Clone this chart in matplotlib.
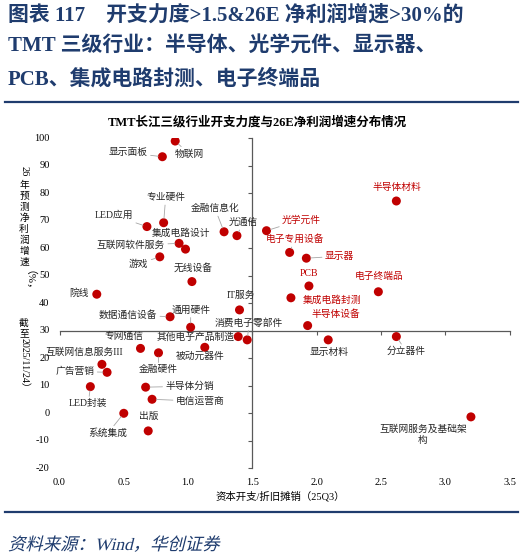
import matplotlib
matplotlib.use('Agg')
import matplotlib.pyplot as plt
from matplotlib.lines import Line2D
from matplotlib.textpath import TextPath
from matplotlib.patches import PathPatch
from matplotlib.font_manager import FontProperties
from matplotlib.transforms import Affine2D

plt.rcParams['font.family'] = ['Liberation Serif', 'Noto Sans CJK SC']

## industries, capex / D&A (25Q3) and 26E profit growth (%)
names = ['物联网', '显示面板', '专业硬件', 'LED应用', '集成电路设计', '互联网软件服务',
         '游戏', '无线设备', '金融信息化', '光通信', '院线', 'IT服务',
         '光学元件', '电子专用设备', '显示器', '半导体材料', 'PCB', '电子终端品',
         '集成电路封测', '半导体设备', '数据通信设备', '通用硬件', '消费电子零部件',
         '其他电子产品制造', '专网通信', '被动元器件', '金融硬件', '互联网信息服务III',
         '广告营销', 'LED封装', '半导体分销', '电信运营商', '系统集成', '出版',
         '显示材料', '分立器件', '互联网服务及基础架\n构']
capex_ratio = [0.90, 0.80, 0.81, 0.68, 0.98, 0.93,
               0.78, 1.03, 1.28, 1.38, 0.29, 1.40,
               1.61, 1.79, 1.92, 2.62, 1.94, 2.48,
               1.80, 1.93, 0.86, 1.02, 1.46,
               1.39, 0.63, 1.13, 0.77, 0.33,
               0.37, 0.24, 0.67, 0.72, 0.50, 0.69,
               2.09, 2.62, 3.20]
profit_growth = [99.0, 93.3, 69.3, 67.9, 59.7, 61.8,
                 56.9, 47.9, 66.0, 64.6, 43.3, 37.6,
                 66.4, 58.5, 56.4, 77.2, 46.3, 44.2,
                 42.0, 31.9, 35.1, 31.3, 26.7,
                 27.9, 23.6, 24.0, 22.0, 17.8,
                 14.9, 9.7, 9.5, 5.1, 0.0, -6.4,
                 26.7, 27.9, -1.3]
x_ticks = [0.0, 0.5, 1.0, 1.5, 2.0, 2.5, 3.0, 3.5]
y_ticks = [-20, -10, 0, 10, 20, 30, 40, 50, 60, 70, 80, 90, 100]

## label placement (pixel offsets from the point) and leader lines
label_offsets = [(14, -13), (-34, 4), (2, 25), (-33, 11), (-4, 16), (-48, -2),
                 (-21, -7), (1, 14), (-9, 23), (6, 13), (-18, 1), (1, 15),
                 (35, 11), (5, 13), (33, 2), (1, 14), (0, 12), (1, 15),
                 (41, -2), (28, 11), (-42, 2), (0, 17), (2, 17),
                 (-43, -1), (-17, 12), (-5, -9), (0, -17), (-18, 12),
                 (-32, 1), (-2, -17), (44, 1), (48, -2), (-16, -20), (1, 14),
                 (1, -13), (10, -15), (-48, -18)]
with_leader = ['物联网', '显示面板', '专业硬件', 'LED应用', '互联网软件服务', '游戏',
               '金融信息化', '光通信', '光学元件', '电子专用设备', '显示器',
               '数据通信设备', '通用硬件', '消费电子零部件', '金融硬件', '广告营销',
               'LED封装', '半导体分销', '电信运营商', '系统集成', '分立器件']

RED = '#c00000'
NAVY = '#1f3c6e'
W, H = 524, 558

fig = plt.figure(figsize=(W / 100, H / 100), dpi=100)

def fx(px):
    return px / W

def fy(py):
    return 1 - py / H

## header
fig.text(fx(8), fy(15), '图表 117    开支力度>1.5&26E 净利润增速>30%的', fontsize=15,
         fontweight='bold', color=NAVY, va='center', ha='left')
fig.text(fx(8), fy(47), 'TMT 三级行业：半导体、光学元件、显示器、', fontsize=15,
         fontweight='bold', color=NAVY, va='center', ha='left')
fig.text(fx(8), fy(79), 'PCB、集成电路封测、电子终端品', fontsize=15,
         fontweight='bold', color=NAVY, va='center', ha='left')
fig.add_artist(Line2D([fx(5), fx(518)], [fy(102), fy(102)], transform=fig.transFigure,
                      color=NAVY, lw=1.6))
fig.add_artist(Line2D([fx(5), fx(518)], [fy(512), fy(512)], transform=fig.transFigure,
                      color=NAVY, lw=1.6))

## source line, slanted like the original italic
fp = FontProperties(family=['Liberation Serif', 'Noto Sans CJK SC'])
tp = TextPath((0, 0), '资料来源：Wind，华创证券', size=12.5, prop=fp)
slant = Affine2D().skew_deg(14, 0).scale(100 / 72).translate(8, H - 550)
fig.add_artist(PathPatch(tp, transform=slant, facecolor=NAVY, edgecolor='none'))

## chart title
fig.text(fx(257), fy(122), 'TMT长江三级行业开支力度与26E净利润增速分布情况', fontsize=9,
         fontweight='bold', color='black', ha='center', va='center')

## axes
ax = fig.add_axes([fx(59.5), fy(468.3), 450 / W, 330 / H])
ax.set_xlim(0, 3.5)
ax.set_ylim(-20, 100)
ax.spines['top'].set_visible(False)
ax.spines['right'].set_visible(False)
ax.spines['left'].set_position(('data', 1.5))
ax.spines['bottom'].set_position(('data', 30))
for s in ['left', 'bottom']:
    ax.spines[s].set_color('#595959')
    ax.spines[s].set_linewidth(0.9)
ax.set_xticks(x_ticks)
ax.set_yticks(y_ticks)
ax.tick_params(labelleft=False, labelbottom=False, length=3, width=0.8, color='#595959')
ax.patch.set_alpha(0)

for v in y_ticks:
    ax.annotate(str(v), xy=(0, v), xycoords=('axes fraction', 'data'), xytext=(-10, 0),
                textcoords='offset pixels', ha='right', va='center', fontsize=7.5)
for v in x_ticks:
    ax.annotate('%.1f' % v, xy=(v, 0), xycoords=('data', 'axes fraction'), xytext=(0, -14),
                textcoords='offset pixels', ha='center', va='center', fontsize=7.5)

fig.text(fx(280), fy(496), '资本开支/折旧摊销（25Q3）', fontsize=7.5, ha='center', va='center')

## y label, stacked vertically (CJK upright, latin runs turned)
## (text, centre y in pixels, font size, turned)
ylabel_parts = [('26', 171, 7.5, True)]
for k, ch in enumerate('年预测净利润增速'):
    ylabel_parts.append((ch, 185 + 11 * k, 7, False))
ylabel_parts += [('（%，', 285, 7.8, True), ('截', 323, 7, False), ('至', 334, 7, False),
                 ('2025/11/24）', 365, 7.2, True)]
for text, py, size, turned in ylabel_parts:
    fig.text(fx(24), fy(py), text, fontsize=size, rotation=-90 if turned else 0,
             ha='center', va='center')

## points and labels
ax.scatter(capex_ratio, profit_growth, s=42, color=RED, edgecolors='none', zorder=3)
for i, name in enumerate(names):
    x, y = capex_ratio[i], profit_growth[i]
    col = RED if (x > 1.5 and y > 30) else '#262626'
    arrow = None
    if name in with_leader:
        arrow = dict(arrowstyle='-', color='#a6a6a6', lw=0.6, shrinkA=0, shrinkB=3)
    ax.annotate(name, xy=(x, y), xytext=label_offsets[i], textcoords='offset pixels',
                ha='center', va='center', fontsize=7, color=col,
                multialignment='center', linespacing=1.4, arrowprops=arrow, zorder=4)

fig.savefig('out.png', dpi=100)
